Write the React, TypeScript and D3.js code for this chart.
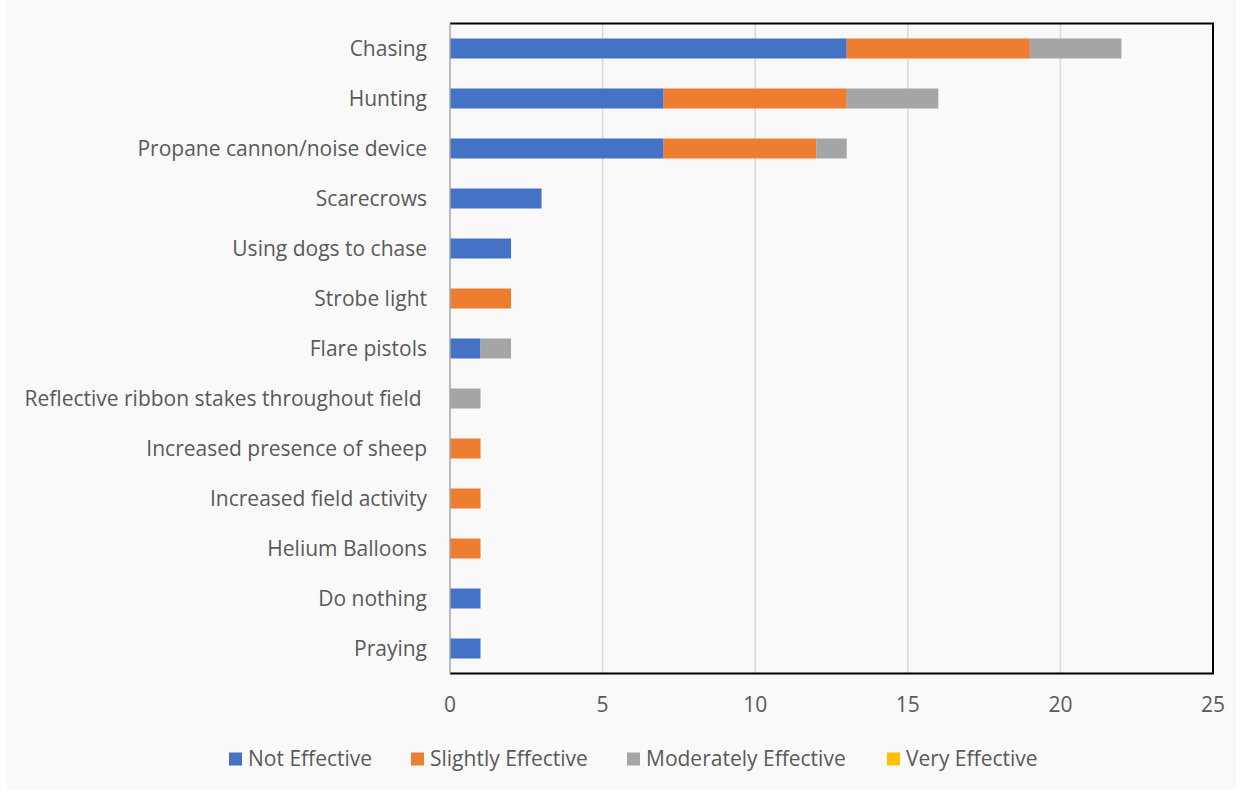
import React, { useEffect, useRef } from "react";
import * as d3 from "d3";

const categories = [
  "Chasing",
  "Hunting",
  "Propane cannon/noise device",
  "Scarecrows",
  "Using dogs to chase",
  "Strobe light",
  "Flare pistols",
  "Reflective ribbon stakes throughout field ",
  "Increased presence of sheep",
  "Increased field activity",
  "Helium Balloons",
  "Do nothing",
  "Praying",
];

const seriesNames = ["Not Effective", "Slightly Effective", "Moderately Effective", "Very Effective"];
const notEffective = [13, 7, 7, 3, 2, 0, 1, 0, 0, 0, 0, 1, 1];
const slightlyEffective = [6, 6, 5, 0, 0, 2, 0, 0, 1, 1, 1, 0, 0];
const moderatelyEffective = [3, 3, 1, 0, 0, 0, 1, 1, 0, 0, 0, 0, 0];
const veryEffective = [0, 0, 0, 0, 0, 0, 0, 0, 0, 0, 0, 0, 0];
const colors = ["#4472c4", "#ed7d31", "#a5a5a5", "#ffc000"];
const xTicks = [0, 5, 10, 15, 20, 25];

const App = () => {
  const ref = useRef(null);
  const width = 1243;
  const height = 793;
  const marginLeft = 450;
  const marginRight = 30;
  const marginTop = 23.5;
  const plotBottom = 673.5;
  const font = "'Open Sans', sans-serif";
  const textColor = "#595959";

  useEffect(() => {
    if (!ref.current) return;
    const svg = d3.select(ref.current);
    svg.selectAll("*").remove();

    // background
    svg.append("rect").attr("x", 7).attr("y", 0).attr("width", 1229).attr("height", 790).attr("fill", "#f9f9f9");

    const x = d3.scaleLinear([0, 25], [marginLeft, width - marginRight]);
    const y = d3.scaleBand(categories, [marginTop, plotBottom]).paddingInner(0.6).paddingOuter(0.3);

    // gridlines
    svg
      .append("g")
      .selectAll("line")
      .data(xTicks.slice(1, -1))
      .join("line")
      .attr("x1", (d) => x(d))
      .attr("x2", (d) => x(d))
      .attr("y1", marginTop)
      .attr("y2", plotBottom)
      .attr("stroke", "#d9d9d9")
      .attr("stroke-width", 1.5);

    // stacked bars
    const rows = categories.map((c, i) => ({
      cat: c,
      "Not Effective": notEffective[i],
      "Slightly Effective": slightlyEffective[i],
      "Moderately Effective": moderatelyEffective[i],
      "Very Effective": veryEffective[i],
    }));
    const stack = d3.stack().keys(seriesNames)(rows as any);
    svg
      .append("g")
      .selectAll("g")
      .data(stack)
      .join("g")
      .attr("fill", (_, i) => colors[i])
      .selectAll("rect")
      .data((s) => s.filter((d) => d[1] > d[0]))
      .join("rect")
      .attr("x", (d) => x(d[0]))
      .attr("width", (d) => x(d[1]) - x(d[0]))
      .attr("y", (d) => y((d.data as any).cat)!)
      .attr("height", y.bandwidth());

    // plot border
    svg
      .append("path")
      .attr("d", `M${x(0)},${marginTop}H${x(25)}V${plotBottom}H${x(0)}`)
      .attr("fill", "none")
      .attr("stroke", "#000")
      .attr("stroke-width", 2);
    svg
      .append("line")
      .attr("x1", x(0))
      .attr("x2", x(0))
      .attr("y1", marginTop)
      .attr("y2", plotBottom)
      .attr("stroke", "#a6a6a6")
      .attr("stroke-width", 1.5);

    // category labels
    svg
      .append("g")
      .selectAll("text")
      .data(categories)
      .join("text")
      .attr("x", 427)
      .attr("y", (d) => y(d)! + y.bandwidth() / 2)
      .attr("dy", "0.35em")
      .attr("text-anchor", "end")
      .attr("fill", textColor)
      .style("font", `21px ${font}`)
      .style("white-space", "pre")
      .text((d) => d);

    // x tick labels
    svg
      .append("g")
      .selectAll("text")
      .data(xTicks)
      .join("text")
      .attr("x", (d) => x(d))
      .attr("y", 705)
      .attr("dy", "0.35em")
      .attr("text-anchor", "middle")
      .attr("fill", textColor)
      .style("font", `21px ${font}`)
      .text((d) => d);

    // legend
    const legendStarts = [229, 411, 627, 887];
    const lg = svg
      .append("g")
      .selectAll("g")
      .data(seriesNames)
      .join("g")
      .attr("transform", (_, i) => `translate(${legendStarts[i]},759)`);
    lg.append("rect")
      .attr("x", 0)
      .attr("y", -6.5)
      .attr("width", 13)
      .attr("height", 13)
      .attr("fill", (_, i) => colors[i]);
    lg.append("text")
      .attr("x", 19)
      .attr("dy", "0.35em")
      .attr("fill", textColor)
      .style("font", `21px ${font}`)
      .text((d) => d);
  }, []);

  return (
    <svg
      ref={ref}
      width={width}
      height={height}
      viewBox={`0 0 ${width} ${height}`}
      style={{ display: "block", position: "absolute", left: 0, top: 0, background: "#fff" }}
    />
  );
};

export default App;
